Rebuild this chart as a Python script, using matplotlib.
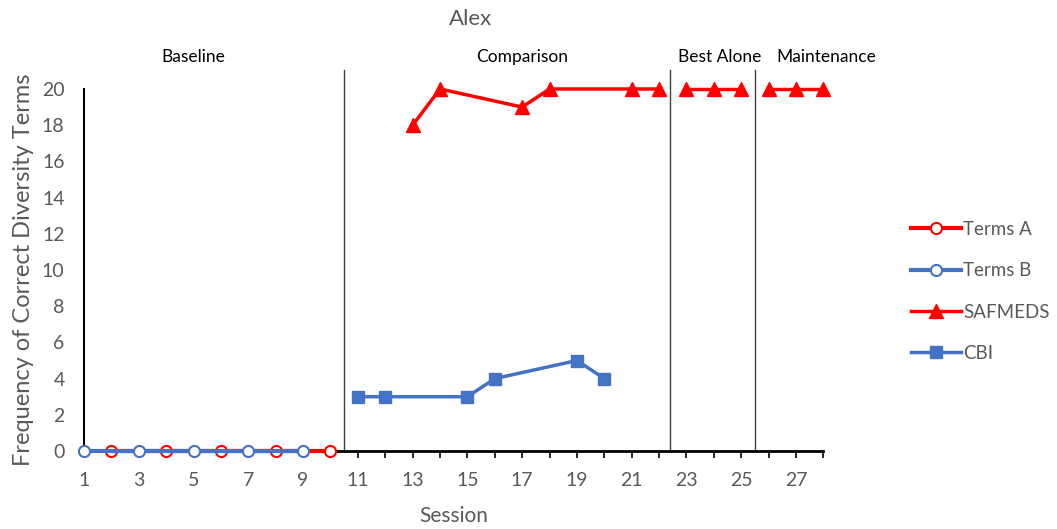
import numpy as np
import matplotlib.pyplot as plt

plt.rcParams['font.family'] = ['Lato', 'DejaVu Sans']
grey = '#595959'
red = '#FF0000'
blue = '#4472C4'

# session data
terms_a_x = [2, 4, 6, 8, 10]
terms_a_y = [0, 0, 0, 0, 0]
terms_b_x = [1, 3, 5, 7, 9]
terms_b_y = [0, 0, 0, 0, 0]
safmeds_segments = [
    ([13, 14, 17, 18, 21, 22], [18, 20, 19, 20, 20, 20]),
    ([23, 24, 25], [20, 20, 20]),
    ([26, 27, 28], [20, 20, 20]),
]
cbi_x = [11, 12, 15, 16, 19, 20]
cbi_y = [3, 3, 3, 4, 5, 4]

phase_lines = [10.5, 22.4, 25.5]
phase_names = ['Baseline', 'Comparison', 'Best Alone', 'Maintenance']
phase_label_x = [5.0, 17.0, 24.2, 28.1]

fig = plt.figure(figsize=(10.57, 5.29), dpi=100)
ax = fig.add_axes([0.0795, 0.1474, 0.6995, 0.6844])

ax.plot(terms_a_x, terms_a_y, color=red, lw=3, marker='o', ms=8,
        mfc='white', mec=red, mew=1.5, label='Terms A', zorder=3, clip_on=False)
ax.plot(terms_b_x, terms_b_y, color=blue, lw=3, marker='o', ms=8,
        mfc='white', mec=blue, mew=1.5, label='Terms B', zorder=3, clip_on=False)
for i, (sx, sy) in enumerate(safmeds_segments):
    ax.plot(sx, sy, color=red, lw=2.5, marker='^', ms=10,
            label='SAFMEDS' if i == 0 else None, zorder=3, clip_on=False)
ax.plot(cbi_x, cbi_y, color=blue, lw=2.5, marker='s', ms=9,
        label='CBI', zorder=3, clip_on=False)

for x in phase_lines:
    ax.plot([x, x], [0, 21.05], color='#404040', lw=1, clip_on=False, zorder=2)
for name, x in zip(phase_names, phase_label_x):
    ax.text(x, 21.3, name, ha='center', va='bottom', fontsize=12.5, color='black')

ax.set_xlim(1, 28)
ax.set_ylim(0, 20)
ax.set_xticks(np.arange(1, 29))
ax.set_xticklabels([str(v) if v % 2 == 1 else '' for v in range(1, 29)])
ax.set_yticks(np.arange(0, 21, 2))
ax.tick_params(axis='x', direction='out', length=5, width=1.2, colors='black',
               labelcolor=grey, labelsize=14, pad=10)
ax.tick_params(axis='y', length=0, labelcolor=grey, labelsize=14, pad=14)
for s in ['top', 'right']:
    ax.spines[s].set_visible(False)
ax.spines['left'].set_linewidth(1.5)
ax.spines['bottom'].set_linewidth(2)

ax.set_xlabel('Session', fontsize=15, color=grey, labelpad=12)
ax.set_ylabel('Frequency of Correct Diversity Terms', fontsize=17, color=grey, labelpad=6)
fig.text(0.445, 0.965, 'Alex', ha='center', va='center', fontsize=16, color=grey)

leg = ax.legend(loc='center left', bbox_to_anchor=(1.095, 0.441), frameon=False,
                fontsize=13.5, labelspacing=1.3, handlelength=2.7, handletextpad=0.1)
for t in leg.get_texts():
    t.set_color(grey)

fig.savefig('out.png', dpi=100)
